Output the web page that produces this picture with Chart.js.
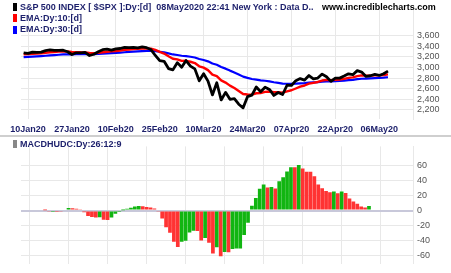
<!DOCTYPE html>
<html>
<head>
<meta charset="utf-8">
<script src="https://cdn.jsdelivr.net/npm/chart.js@4.4.0/dist/chart.umd.min.js"></script>
<style>
body { margin: 0; background: #fff; width: 451px; height: 273px; overflow: hidden; position: relative; font-family: "Liberation Sans", Arial, sans-serif; }
canvas { position: absolute; left: 0; }
#priceChart { top: 0; }
#macdChart { top: 137px; }
.lg { position: absolute; font-size: 9px; font-weight: bold; color: #1c1f6b; white-space: pre; line-height: 11px; }
.mk { position: absolute; left: 13px; width: 4px; height: 8px; }
.sep { position: absolute; left: 0; top: 135px; width: 451px; height: 2px; background: #cfcfcf; }
</style>
</head>
<body>
<canvas id="priceChart" width="451" height="135"></canvas>
<div class="sep"></div>
<canvas id="macdChart" width="451" height="136"></canvas>

<div class="mk" style="top:3px;background:#000"></div>
<div class="lg" style="left:20px;top:2px">S&amp;P 500 INDEX [ $SPX ]:Dy:[d]  08May2020 22:41 New York : Data D..</div>
<div class="lg" style="left:322px;top:2px;color:#000">www.incrediblecharts.com</div>
<div class="mk" style="top:14px;background:#f00"></div>
<div class="lg" style="left:20px;top:13px">EMA:Dy:10:[d]</div>
<div class="mk" style="top:26px;background:#00f"></div>
<div class="lg" style="left:20px;top:24px">EMA:Dy:30:[d]</div>
<div class="mk" style="top:140px;background:#888"></div>
<div class="lg" style="left:20px;top:139px">MACDHUDC:Dy:26:12:9</div>

<script>
// trading days shown
const dates = [
  '09Jan20','10Jan20','13Jan20','14Jan20','15Jan20','16Jan20','17Jan20','21Jan20','22Jan20','23Jan20','24Jan20','27Jan20','28Jan20','29Jan20','30Jan20','31Jan20',
  '03Feb20','04Feb20','05Feb20','06Feb20','07Feb20','10Feb20','11Feb20','12Feb20','13Feb20','14Feb20','18Feb20','19Feb20','20Feb20','21Feb20','24Feb20','25Feb20','26Feb20','27Feb20','28Feb20',
  '02Mar20','03Mar20','04Mar20','05Mar20','06Mar20','09Mar20','10Mar20','11Mar20','12Mar20','13Mar20','16Mar20','17Mar20','18Mar20','19Mar20','20Mar20','23Mar20','24Mar20','25Mar20','26Mar20','27Mar20','30Mar20','31Mar20',
  '01Apr20','02Apr20','03Apr20','06Apr20','07Apr20','08Apr20','09Apr20','13Apr20','14Apr20','15Apr20','16Apr20','17Apr20','20Apr20','21Apr20','22Apr20','23Apr20','24Apr20','27Apr20','28Apr20','29Apr20','30Apr20',
  '01May20','04May20','05May20','06May20','07May20','08May20'
];
const tickDates = ['10Jan20','27Jan20','10Feb20','25Feb20','10Mar20','24Mar20','07Apr20','22Apr20','06May20'];

const closes = [
  3274.7,3265.4,3288.1,3283.2,3289.3,3316.8,3329.6,3320.8,3321.8,3325.5,3295.5,3243.6,3276.2,3273.4,3283.7,3225.5,
  3248.9,3297.6,3334.7,3345.8,3327.7,3352.1,3357.8,3379.5,3373.9,3380.2,3370.3,3386.2,3373.2,3337.8,3225.9,3128.2,3116.4,2978.8,2954.2,
  3090.2,3003.4,3130.1,3023.9,2972.4,2746.6,2882.2,2741.4,2480.6,2711.0,2386.1,2529.2,2398.1,2409.4,2304.9,2237.4,2447.3,2475.6,2630.1,2541.5,2626.7,2584.6,
  2470.5,2526.9,2488.7,2663.7,2659.4,2750.0,2789.8,2761.6,2846.1,2783.4,2799.6,2874.6,2823.2,2736.6,2799.3,2797.8,2836.7,2878.5,2863.4,2939.5,2912.4,
  2830.7,2842.7,2868.4,2848.4,2881.2,2929.8
];
const ema10 = [
  3247.9,3251.1,3257.8,3262.4,3267.3,3276.3,3286.0,3292.3,3297.7,3302.7,3301.4,3290.9,3288.2,3285.5,3285.2,3274.4,
  3269.7,3274.8,3285.7,3296.6,3302.3,3311.3,3319.8,3330.6,3338.5,3346.1,3350.5,3357.0,3359.9,3355.9,3332.3,3295.2,3262.7,3211.1,3164.4,
  3150.9,3124.1,3125.2,3106.8,3082.4,3021.3,2996.0,2949.7,2864.4,2836.5,2754.6,2713.6,2656.2,2611.3,2555.6,2497.7,2488.5,2486.1,2512.3,2517.6,2537.4,2546.0,
  2532.3,2531.3,2523.5,2549.0,2569.1,2602.0,2636.1,2658.9,2692.9,2709.3,2725.7,2752.8,2765.6,2760.3,2767.4,2772.9,2784.5,2801.6,2812.8,2835.8,2849.7,
  2846.2,2845.6,2849.7,2849.5,2855.3,2868.8
];
const ema30 = [
  3193.6,3198.2,3204.0,3209.1,3214.3,3220.9,3227.9,3233.9,3239.6,3245.1,3248.4,3248.1,3249.9,3251.4,3253.5,3251.7,
  3251.5,3254.5,3259.7,3265.3,3269.3,3274.6,3280.0,3286.4,3292.0,3297.7,3302.4,3307.8,3312.0,3313.7,3308.0,3296.4,3284.8,3265.1,3245.0,
  3235.0,3220.1,3214.3,3202.0,3187.2,3158.8,3141.0,3115.2,3074.3,3050.9,3008.0,2977.1,2939.8,2905.6,2866.9,2826.3,2801.9,2780.9,2771.2,2756.4,2748.0,2737.5,
  2720.3,2707.8,2693.7,2691.8,2689.7,2693.6,2699.8,2703.8,2713.0,2717.5,2722.8,2732.6,2738.4,2738.3,2742.2,2745.8,2751.7,2759.9,2766.6,2777.8,2786.5,
  2789.4,2792.8,2797.7,2801.0,2806.2,2814.2
];
const macdHist = [
  0.3,-0.9,-0.4,-0.7,-0.8,1.5,3.5,3.2,2.4,1.2,
  -2.1,-7.3,-8.5,-9.3,-8.9,-12.3,-12.5,-9.1,-4.3,-0.6,
  0.4,2.4,3.7,5.4,6.2,5.8,4.8,4.2,2.7,-0.8,
  -10.5,-22.4,-29.7,-41.6,-48.5,-41.5,-40.3,-29.2,-27.1,-27.3,
  -39.9,-36.6,-42.8,-57.3,-49.0,-61.1,-55.3,-55.8,-51.2,-50.8,
  -50.6,-32.7,-16.2,6.5,16.7,29.3,34.7,30.7,31.6,29.6,
  39.3,44.4,52.2,58.0,57.8,60.8,56.2,52.0,51.9,46.0,
  34.7,29.9,26.0,24.5,25.5,23.0,25.5,23.5,16.0,12.0,
  9.0,5.5,4.0,6.0
];
const priceTicks = [2200,2400,2600,2800,3000,3200,3400,3600];
const macdTicks = [-60,-40,-20,0,20,40,60];

const navy = '#1c1f6b';
const gridCol = '#e8e8e8';
const xMin = -0.6, xMax = 88.7;

function pts(arr) {
  return arr.map((v, i) => ({ x: i, y: v }));
}

function xAxis(showLabels, h) {
  return {
    type: 'linear',
    min: xMin,
    max: xMax,
    afterBuildTicks: s => { s.ticks = tickDates.map(d => ({ value: dates.indexOf(d) })); },
    afterFit: s => { s.height = h; },
    grid: { color: gridCol, drawTicks: false },
    border: { display: false },
    ticks: {
      display: showLabels,
      autoSkip: false,
      maxRotation: 0,
      padding: 5,
      color: navy,
      font: { family: '"Liberation Sans", Arial', size: 9, weight: 'bold' },
      callback: v => dates[v]
    }
  };
}

new Chart(document.getElementById('priceChart'), {
  type: 'line',
  data: {
    datasets: [
      { data: pts(closes), borderColor: '#000', borderWidth: 2.8 },
      { data: pts(ema10), borderColor: '#f00', borderWidth: 2.4 },
      { data: pts(ema30), borderColor: '#00f', borderWidth: 2.2 }
    ]
  },
  options: {
    responsive: false,
    animation: false,
    layout: { padding: { left: 21, right: 0, top: 0, bottom: 0 } },
    elements: { point: { radius: 0 }, line: { tension: 0, borderJoinStyle: 'round' } },
    plugins: { legend: { display: false }, tooltip: { enabled: false } },
    scales: {
      x: xAxis(true, 16),
      y: {
        position: 'right',
        min: 2026,
        max: 4096,
        afterBuildTicks: s => { s.ticks = priceTicks.map(v => ({ value: v })); },
        afterFit: s => { s.width = 38; },
        grid: { color: gridCol, drawTicks: false },
        border: { display: true, color: gridCol },
        ticks: {
          padding: 4,
          color: '#555',
          font: { family: '"Liberation Sans", Arial', size: 9 },
          callback: v => v.toLocaleString('en-US')
        }
      }
    }
  }
});

new Chart(document.getElementById('macdChart'), {
  type: 'bar',
  data: {
    datasets: [{
      data: pts(macdHist),
      backgroundColor: macdHist.map((v, i) => (i > 0 && v > macdHist[i - 1]) ? '#11b511' : '#ff3333'),
      barPercentage: 0.95,
      categoryPercentage: 1
    }]
  },
  options: {
    responsive: false,
    animation: false,
    layout: { padding: { left: 21, right: 0, top: 3, bottom: 0 } },
    plugins: { legend: { display: false }, tooltip: { enabled: false } },
    scales: {
      x: xAxis(false, 7),
      y: {
        position: 'right',
        min: -70.8,
        max: 85.7,
        afterBuildTicks: s => { s.ticks = macdTicks.map(v => ({ value: v })); },
        afterFit: s => { s.width = 38; },
        grid: {
          drawTicks: false,
          color: c => c.tick && c.tick.value === 0 ? '#c8c8da' : gridCol,
          lineWidth: c => c.tick && c.tick.value === 0 ? 2 : 1
        },
        border: { display: true, color: gridCol },
        ticks: {
          padding: 4,
          color: '#555',
          font: { family: '"Liberation Sans", Arial', size: 9 },
          callback: v => String(v)
        }
      }
    }
  }
});
</script>
</body>
</html>
